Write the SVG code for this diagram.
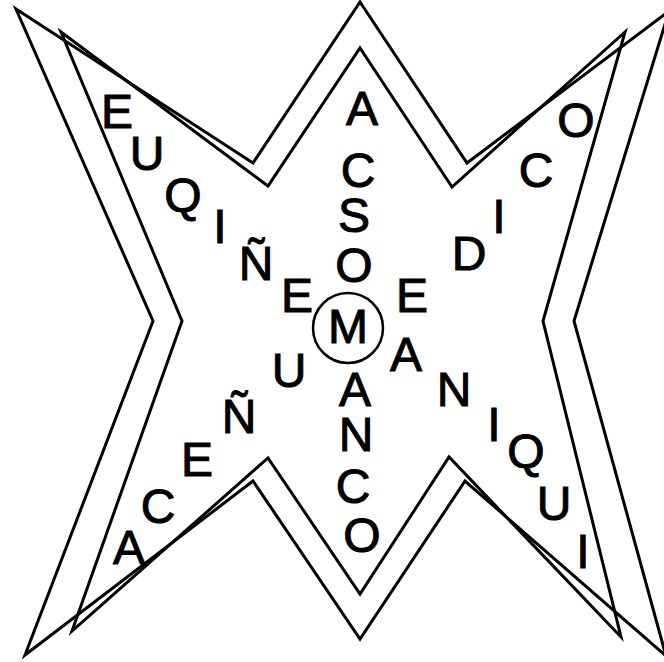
<svg xmlns="http://www.w3.org/2000/svg" width="664" height="662" viewBox="0 0 664 662">
<style>
.star{fill:none;stroke:#000;stroke-width:3;stroke-linejoin:miter}
text{font-family:"Liberation Sans",Arial,sans-serif;font-size:48px;fill:#000;stroke:#000;stroke-width:1;text-anchor:middle}
</style>
<rect width="664" height="662" fill="#fff"/>
<g id="stars">
<polygon class="star" points="360,2 467,163 669,11 574,321 666,656 465,481 360,639 253,481 25,655 153,321 16,9 253,163"/>
<polygon class="star" points="360,48 452,187 625,32 543,321 621,637 449,457 360,594 268,458 72,631 182,321 61,32 268,186"/>
</g>
<g id="center">
<circle cx="348" cy="328" r="35" fill="none" stroke="#000" stroke-width="2.5"/>
<text x="348" y="343">M</text>
</g>
<g id="column">
<text x="362" y="125">A</text>
<text x="358" y="187">C</text>
<text x="354" y="232">S</text>
<text x="354" y="282">O</text>
<text x="355" y="406">A</text>
<text x="356" y="451">N</text>
<text x="353" y="503">C</text>
<text x="362" y="552">O</text>
</g>
<g id="arm-top-left">
<text x="117" y="128">E</text>
<text x="147" y="170">U</text>
<text x="183" y="212">Q</text>
<text x="220" y="243">I</text>
<text x="256" y="280">Ñ</text>
<text x="297" y="312">E</text>
</g>
<g id="arm-top-right">
<text x="576" y="137">O</text>
<text x="536" y="187">C</text>
<text x="499" y="233">I</text>
<text x="469" y="270">D</text>
<text x="412" y="312">E</text>
</g>
<g id="arm-bottom-left">
<text x="289" y="387">U</text>
<text x="239" y="433">Ñ</text>
<text x="197" y="476">E</text>
<text x="158" y="523">C</text>
<text x="129" y="564">A</text>
</g>
<g id="arm-bottom-right">
<text x="406" y="371">A</text>
<text x="454" y="406">N</text>
<text x="494" y="441">I</text>
<text x="526" y="468">Q</text>
<text x="554" y="520">U</text>
<text x="583" y="568">I</text>
</g>
</svg>
